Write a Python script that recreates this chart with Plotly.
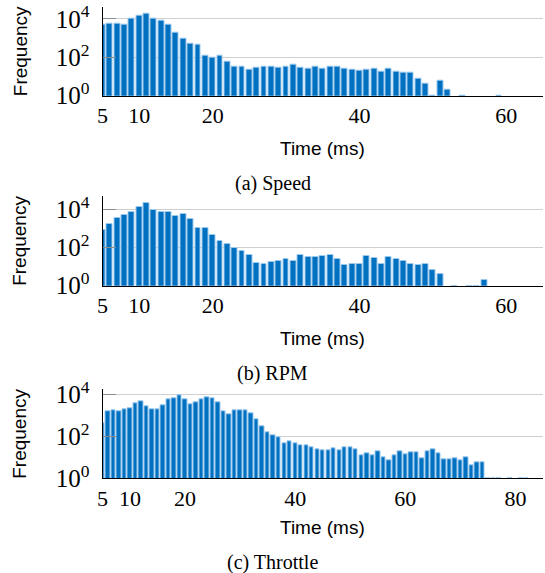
import plotly.graph_objects as go

# ---------------- data ----------------
speed_ms = list(range(5, 66))
speed_freq = [4900, 5750, 5500, 5250, 10000, 15500, 20000, 10700, 7950, 5000,
              1860, 930, 500, 457, 126, 95, 117, 58, 32, 32,
              23, 28, 32, 34, 30, 34, 40, 30, 25, 34,
              25, 32, 32, 27, 23, 19, 23, 25, 18, 26,
              17, 15, 15, 8, 4, 1, 6, 2, 0, 1,
              0, 0, 0, 0, 1, 0, 0, 0, 0, 0, 0]

rpm_ms = list(range(5, 66))
rpm_freq = [830, 1630, 3660, 4870, 6950, 12700, 22400, 9300, 6900, 6900,
            4660, 5470, 3000, 1100, 1100, 470, 228, 158, 98, 63,
            39, 15, 14, 17, 19, 24, 20, 43, 33, 33,
            37, 40, 24, 12, 13, 14, 36, 30, 13, 32,
            25, 20, 13, 12, 14, 7, 4, 0, 1, 0,
            1, 1, 2, 0, 0, 0, 0, 0, 0, 0, 0]

throttle_ms = list(range(5, 86))
throttle_freq = [417, 1490, 1790, 1490, 1860, 2240, 3720, 4800, 2770, 2000,
                 1950, 3100, 5600, 6400, 9000, 6000, 3460, 4300, 6000, 7500,
                 6800, 4000, 1490, 1150, 1780, 1780, 1780, 1290, 645, 310,
                 155, 112, 90, 46, 60, 46, 39, 37, 31, 24,
                 21, 21, 27, 21, 30, 31, 24, 12, 16, 12,
                 19, 10, 7, 13, 19, 14, 18, 18, 9, 19,
                 24, 15, 8, 8, 9, 7, 10, 4, 6, 6,
                 1, 1, 1, 0, 1, 0, 1, 1, 0, 0, 0]

x_ticks_short = [5, 10, 20, 40, 60]
x_ticks_long = [5, 10, 20, 40, 60, 80]
y_tickvals = [1, 100, 10000]
y_ticktext = ["10<sup>0</sup>", "10<sup>2</sup>", "10<sup>4</sup>"]
captions = ["(a) Speed", "(b) RPM", "(c) Throttle"]

# ---------------- layout geometry (pixels) ----------------
W, H = 545, 573
x0_px, x1_px = 102.5, 543
panels = [
    dict(ms=speed_ms, f=speed_freq, xr=[5, 65], yr=[0, 4.64], top=6.7, bot=95.7,
         xt=x_ticks_short, tlabel=149, cap=183),
    dict(ms=rpm_ms, f=rpm_freq, xr=[5, 65], yr=[0, 4.70], top=196, bot=285.7,
         xt=x_ticks_short, tlabel=338, cap=373),
    dict(ms=throttle_ms, f=throttle_freq, xr=[5, 85], yr=[0, 4.24], top=389.3, bot=478.3,
         xt=x_ticks_long, tlabel=527, cap=562),
]

bar_color = "#0070C0"
edge_color = "#9CC9EE"
serif = "Liberation Serif, Times New Roman, serif"
sans = "Liberation Sans, Arial, sans-serif"

fig = go.Figure()
annotations = []
for i, p in enumerate(panels, start=1):
    sfx = "" if i == 1 else str(i)
    vals = [v if v > 0 else None for v in p["f"]]
    fig.add_trace(go.Bar(
        x=p["ms"], y=vals, width=0.8,
        marker=dict(color=bar_color, line=dict(color=edge_color, width=1)),
        xaxis="x" + sfx, yaxis="y" + sfx, showlegend=False,
        hovertemplate="%{x} ms: %{y}<extra></extra>",
    ))
    ydom = [1 - p["bot"] / H, 1 - p["top"] / H]
    fig.layout["xaxis" + sfx] = dict(
        domain=[x0_px / W, x1_px / W], range=p["xr"], anchor="y" + sfx,
        tickvals=p["xt"], ticks="", showgrid=False, zeroline=False,
        showline=True, linecolor="black", linewidth=1, automargin=False,
        tickfont=dict(family=serif, size=22, color="black"),
        ticklabelstandoff=0,
    )
    fig.layout["yaxis" + sfx] = dict(
        domain=ydom, type="log", range=p["yr"], anchor="x" + sfx,
        tickvals=y_tickvals, ticktext=y_ticktext,
        ticks="inside", ticklen=13, tickcolor="#8c8c8c", tickwidth=1,
        showgrid=True, gridcolor="#cfcfcf", gridwidth=1, zeroline=False,
        showline=True, linecolor="black", linewidth=1, automargin=False,
        tickfont=dict(family=serif, size=25, color="black"),
        ticklabelstandoff=7,
    )
    # y title
    annotations.append(dict(
        text="Frequency", x=20 / W, y=1 - (p["top"] + p["bot"]) / 2 / H,
        xref="paper", yref="paper", showarrow=False, textangle=-90,
        font=dict(family=sans, size=19, color="black"),
        xanchor="center", yanchor="middle",
    ))
    # x title
    annotations.append(dict(
        text="Time (ms)", x=(x0_px + x1_px) / 2 / W, y=1 - p["tlabel"] / H,
        xref="paper", yref="paper", showarrow=False,
        font=dict(family=sans, size=19, color="black"),
        xanchor="center", yanchor="middle",
    ))
    # caption
    annotations.append(dict(
        text=captions[i - 1], x=0.5, y=1 - p["cap"] / H,
        xref="paper", yref="paper", showarrow=False,
        font=dict(family=serif, size=20, color="black"),
        xanchor="center", yanchor="middle",
    ))

fig.update_layout(
    width=W, height=H, margin=dict(l=0, r=0, t=0, b=0),
    paper_bgcolor="white", plot_bgcolor="white",
    bargap=0, annotations=annotations,
)

fig.write_html("out.html", config={"displayModeBar": False})

# remove the browser's default page margin so the figure sits at (0, 0)
with open("out.html", "r", encoding="utf-8") as fh:
    html = fh.read()
html = html.replace("<head>", "<head><style>html,body{margin:0;padding:0;overflow:hidden;}</style>", 1)
with open("out.html", "w", encoding="utf-8") as fh:
    fh.write(html)
